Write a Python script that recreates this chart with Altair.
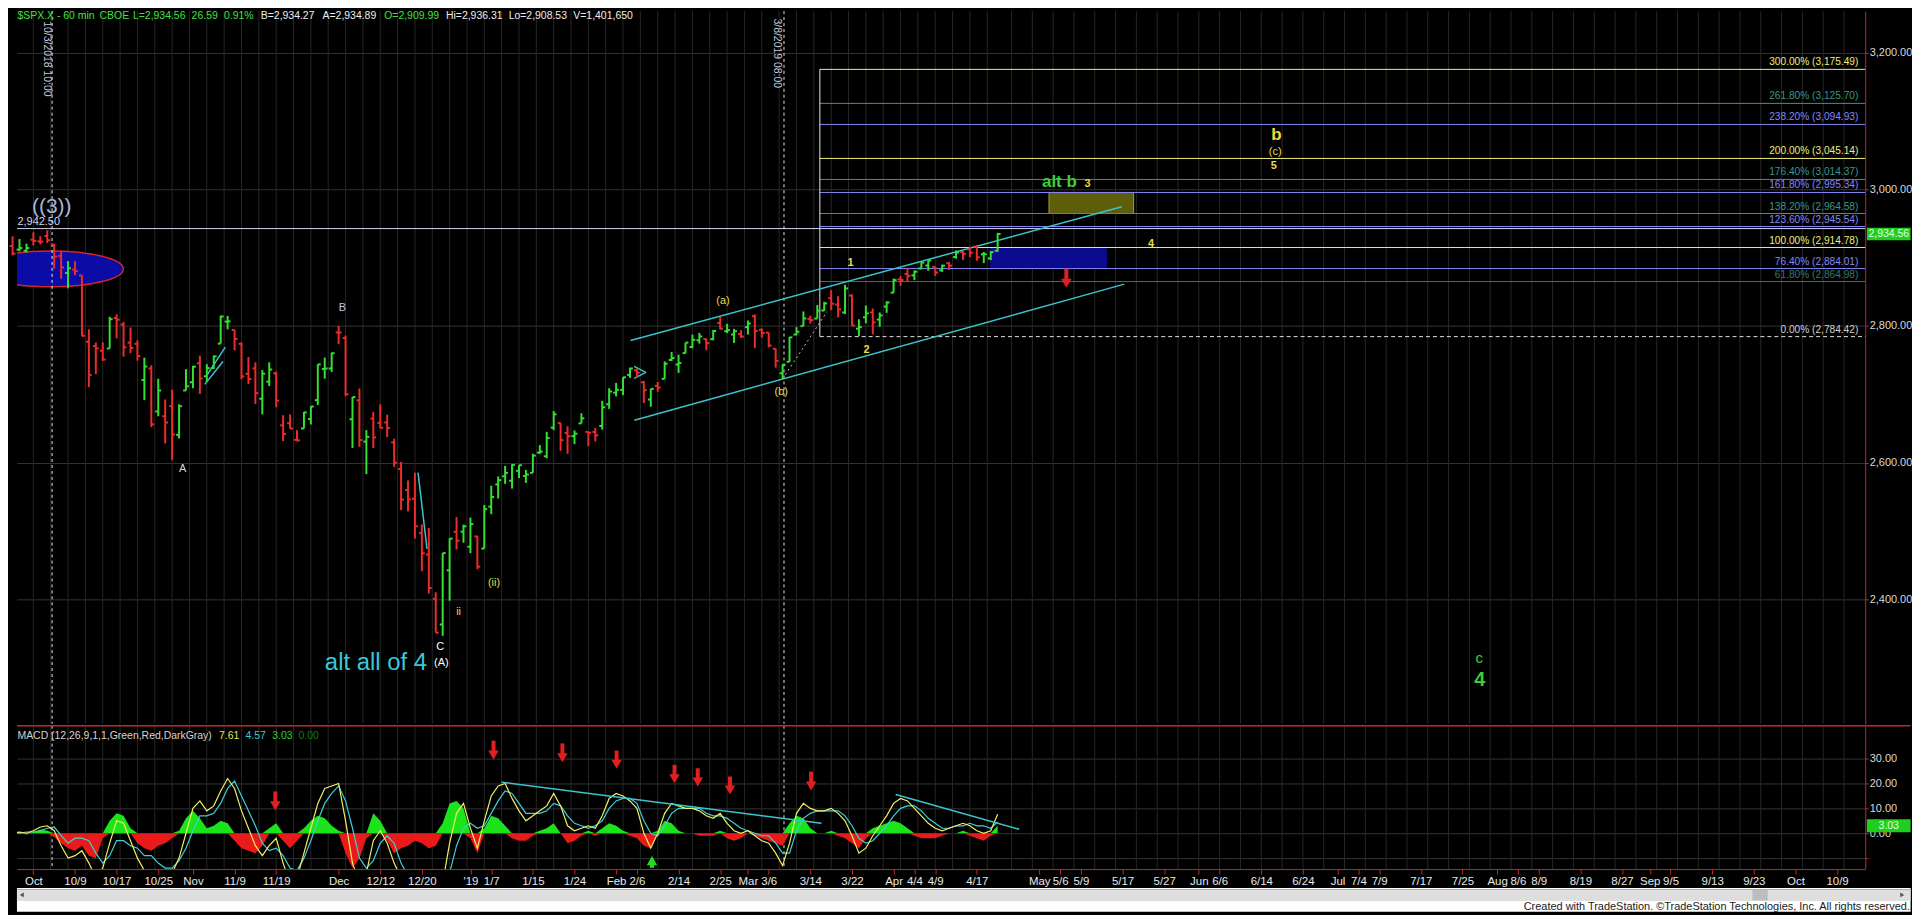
import json
import altair as alt
import numpy as np
import pandas as pd

# ---------------- calendar (trading days; future axis uses weekdays) ----------------
holidays = ["2018-11-22", "2018-12-05", "2018-12-25", "2019-01-01",
            "2019-01-21", "2019-02-18", "2019-04-19"]
trade_days = [d for d in pd.bdate_range("2018-09-26", "2019-04-23")
              if d.strftime("%Y-%m-%d") not in holidays]
FIRST = trade_days.index(pd.Timestamp("2018-10-01"))


def day_index(s):
    d = pd.Timestamp(s)
    if d <= trade_days[-1]:
        return trade_days.index(d) - FIRST
    return (len(trade_days) - 1 - FIRST) + len(pd.bdate_range("2019-04-24", d))


# ---------------- SPX daily OHLC (Sep 26 2018 .. Apr 23 2019) ----------------
opens = [2916.98, 2911.65, 2910.03, 2926.29, 2923.80, 2931.69, 2919.35, 2902.54, 2877.53, 2882.51,
         2873.90, 2776.87, 2770.54, 2763.83, 2767.05, 2811.67, 2802.00, 2775.66, 2773.94, 2721.03,
         2737.87, 2674.88, 2667.86, 2682.65, 2640.68, 2705.60, 2717.58, 2745.45, 2726.37, 2738.40,
         2774.13, 2806.38, 2794.10, 2773.93, 2730.05, 2737.90, 2693.52, 2718.54, 2730.74, 2654.60,
         2657.74, 2633.36, 2649.97, 2663.75, 2691.45, 2736.97, 2737.76, 2790.50, 2782.43, 2663.51,
         2691.26, 2630.86, 2664.44, 2658.23, 2658.70, 2629.68, 2590.75, 2559.90, 2547.05, 2496.77,
         2465.38, 2400.56, 2363.12, 2442.50, 2498.77, 2498.94, 2476.96, 2491.92, 2474.33, 2535.61,
         2568.11, 2580.00, 2573.51, 2588.11, 2580.31, 2585.10, 2614.75, 2609.28, 2651.27, 2657.88,
         2643.48, 2638.84, 2657.44, 2644.97, 2644.89, 2653.62, 2685.49, 2702.32, 2706.49, 2728.34,
         2735.05, 2717.53, 2692.36, 2712.40, 2722.61, 2750.30, 2743.50, 2760.24, 2769.28, 2779.05,
         2780.67, 2780.67, 2804.35, 2792.36, 2787.50, 2788.11, 2798.22, 2814.37, 2794.41, 2790.27,
         2766.53, 2730.79, 2747.61, 2787.34, 2799.78, 2810.38, 2810.79, 2822.61, 2840.76, 2831.34,
         2819.72, 2844.52, 2796.01, 2812.66, 2819.72, 2809.40, 2828.27, 2848.63, 2868.24, 2876.09,
         2873.99, 2884.16, 2888.46, 2886.58, 2881.37, 2891.92, 2900.86, 2908.32, 2912.26, 2916.04,
         2904.81, 2898.78, 2909.99]
highs = [2931.15, 2927.22, 2920.53, 2937.06, 2931.42, 2939.86, 2919.78, 2909.64, 2894.83, 2894.83,
         2874.02, 2795.14, 2775.77, 2775.99, 2813.46, 2816.94, 2806.04, 2797.77, 2778.94, 2753.59,
         2742.59, 2722.70, 2692.38, 2706.85, 2685.43, 2736.69, 2741.67, 2756.55, 2744.27, 2756.82,
         2815.15, 2814.75, 2794.10, 2775.99, 2754.60, 2746.80, 2735.38, 2746.75, 2733.16, 2669.44,
         2670.73, 2647.55, 2674.35, 2682.53, 2744.00, 2753.75, 2760.88, 2800.18, 2785.93, 2696.15,
         2708.54, 2647.51, 2674.35, 2685.44, 2670.19, 2635.07, 2601.13, 2573.99, 2585.29, 2509.63,
         2504.41, 2410.34, 2467.76, 2489.10, 2520.27, 2509.24, 2519.49, 2493.14, 2538.07, 2566.16,
         2579.82, 2595.32, 2597.82, 2596.27, 2589.32, 2613.08, 2625.76, 2645.06, 2675.47, 2657.88,
         2653.19, 2647.20, 2672.38, 2644.97, 2650.93, 2690.44, 2708.95, 2716.66, 2724.99, 2738.98,
         2738.08, 2719.32, 2708.07, 2718.05, 2748.19, 2761.85, 2757.90, 2775.66, 2787.33, 2789.88,
         2781.58, 2794.20, 2813.49, 2803.12, 2795.76, 2793.73, 2808.02, 2816.88, 2796.44, 2790.27,
         2767.25, 2744.13, 2784.00, 2798.32, 2821.24, 2815.00, 2830.73, 2835.41, 2852.42, 2843.54,
         2860.31, 2846.16, 2809.79, 2829.87, 2825.56, 2819.71, 2836.03, 2869.40, 2872.90, 2885.25,
         2881.28, 2893.24, 2895.95, 2886.88, 2889.71, 2893.42, 2910.54, 2909.60, 2916.06, 2918.00,
         2908.40, 2909.51, 2936.31]
lows = [2903.28, 2909.27, 2907.50, 2917.91, 2919.37, 2921.36, 2883.92, 2869.29, 2855.04, 2874.27,
        2784.86, 2710.51, 2729.44, 2749.03, 2766.91, 2781.81, 2755.18, 2760.27, 2749.22, 2691.43,
        2651.89, 2667.84, 2628.16, 2603.54, 2635.34, 2705.60, 2708.85, 2700.44, 2717.94, 2737.08,
        2774.13, 2794.99, 2764.24, 2722.00, 2714.98, 2685.75, 2670.75, 2712.16, 2681.09, 2631.52,
        2649.82, 2631.09, 2649.97, 2655.89, 2684.38, 2722.94, 2732.76, 2773.38, 2697.18, 2621.53,
        2623.14, 2583.23, 2621.30, 2650.26, 2637.27, 2593.84, 2530.54, 2528.71, 2488.96, 2441.18,
        2408.55, 2351.10, 2346.58, 2397.94, 2472.89, 2482.82, 2467.47, 2443.96, 2474.33, 2524.56,
        2547.56, 2568.89, 2562.02, 2577.40, 2570.41, 2585.10, 2612.68, 2606.36, 2647.58, 2617.27,
        2612.86, 2627.01, 2657.33, 2624.06, 2631.05, 2648.34, 2678.65, 2696.88, 2698.75, 2724.03,
        2724.15, 2687.26, 2681.83, 2703.79, 2722.61, 2748.63, 2731.23, 2760.24, 2767.29, 2774.06,
        2764.55, 2779.11, 2794.99, 2789.47, 2775.13, 2782.51, 2787.38, 2767.66, 2782.97, 2768.69,
        2739.09, 2722.27, 2747.61, 2786.73, 2799.78, 2803.46, 2810.79, 2821.99, 2823.27, 2812.43,
        2817.38, 2800.47, 2785.02, 2803.99, 2787.72, 2798.77, 2819.23, 2848.63, 2858.75, 2865.17,
        2867.14, 2882.99, 2880.78, 2873.33, 2879.13, 2881.99, 2898.37, 2896.48, 2900.71, 2895.45,
        2891.90, 2896.35, 2908.53]
closes = [2905.97, 2914.00, 2913.98, 2924.59, 2923.43, 2925.51, 2901.61, 2885.57, 2884.43, 2880.34,
          2785.68, 2728.37, 2767.13, 2750.79, 2809.92, 2809.21, 2768.78, 2767.78, 2755.88, 2740.69,
          2656.10, 2705.57, 2658.69, 2641.25, 2682.63, 2711.74, 2740.37, 2723.06, 2738.31, 2755.45,
          2813.89, 2806.83, 2781.01, 2726.22, 2722.18, 2701.58, 2730.20, 2736.27, 2690.73, 2641.89,
          2649.93, 2632.56, 2673.45, 2682.17, 2743.79, 2737.80, 2760.17, 2790.37, 2700.06, 2695.95,
          2633.08, 2637.72, 2636.78, 2651.07, 2650.54, 2599.95, 2545.94, 2546.16, 2506.96, 2467.42,
          2416.62, 2351.10, 2467.70, 2488.83, 2485.74, 2506.85, 2510.03, 2447.89, 2531.94, 2549.69,
          2574.41, 2584.96, 2596.64, 2596.26, 2582.61, 2610.30, 2616.10, 2635.96, 2670.71, 2632.90,
          2638.70, 2642.33, 2664.76, 2643.85, 2640.00, 2681.05, 2704.10, 2706.53, 2724.87, 2737.70,
          2731.61, 2706.05, 2707.88, 2709.80, 2744.73, 2753.03, 2745.73, 2775.60, 2779.76, 2784.70,
          2774.88, 2792.67, 2796.11, 2793.90, 2792.38, 2784.49, 2803.69, 2792.81, 2789.65, 2771.45,
          2748.93, 2743.07, 2783.30, 2791.52, 2810.92, 2808.48, 2822.48, 2832.94, 2832.57, 2824.23,
          2854.88, 2800.71, 2798.36, 2818.46, 2805.37, 2815.44, 2834.40, 2867.19, 2867.24, 2873.40,
          2879.39, 2892.74, 2895.77, 2878.20, 2888.21, 2888.32, 2907.41, 2905.58, 2907.06, 2900.45,
          2905.03, 2907.97, 2934.56]

# ---------------- MACD (60-min), one reading per trading day ----------------
macd_vals = [0, 0.5, 0, 1, 2.5, 3, 1, -5, -10, -9, -7, -12, -18, -14, -4, 5, 4, -3, -10, -15,
             -16, -17, -18, -16, -10, 0, 10, 13, 9, 11, 17, 22, 18, 9, 2, -5, -9, -5, -2, -12,
             -20, -18, -8, 2, 12, 18, 19, 20, 5, -12, -20, -16, -3, 1, -4, -12, -18, -22, -24, -26,
             -30, -32, -20, -4, 8, 12, 2, -6, 5, 15, 19, 20, 14, 9, 5, 7, 9, 11, 16, 11,
             3, 1, 2, 3, 2, 7, 14, 16, 15, 13, 10, 0, -6, 0, 8, 12, 11, 10, 10, 9,
             7, 6, 8, 4, 1, 0, 1, -1, -3, -4, -8, -13, -4, 8, 12, 10, 9, 9, 10, 8,
             5, -1, -8, -6, -1, 3, 7, 12, 14, 13, 10, 7, 4, 2, 1, 2, 3, 4, 3, 1,
             0, 1, 7.61]
hist_vals = [-0.5, 0.5, -0.5, 0.5, 1.5, 1, -1.5, -4, -6, -7, -5, -9, -10, -2, 5, 8, 7, 2, -4, -6,
             -7, -5, -4, -2, 1, 6, 9, 6, 2, 3, 5, 4, -3, -6, -7, -8, -5, 2, 4, -3,
             -6, -3, 2, 5, 7, 6, 3, 1, -8, -14, -10, -2, 8, 5, -3, -8, -6, -5, -3, -4,
             -6, -5, 4, 12, 13, 10, -2, -8, 2, 7, 6, 3, -2, -3, -3, -1, 1, 2, 4, 0,
             -4, -3, -1, 1, -1, 2, 4, 3, 1, -1, -2, -5, -6, 1, 5, 4, 1, 0, 0, -1,
             -1, -1, 1, -2, -3, -2, 0, -1, -2, -3, -4, -5, 4, 7, 6, 2, 0, 0, 1, -1,
             -2, -4, -6, -2, 2, 3, 4, 5, 4, 2, -1, -2, -2, -2, -1, 0, 0, 1, -1, -2,
             -3, -1, 3.03]

# ---------------- axis labels ----------------
tick_dates = ["2018-10-01", "2018-10-09", "2018-10-17", "2018-10-25", "2018-11-01", "2018-11-09",
              "2018-11-19", "2018-12-03", "2018-12-12", "2018-12-20", "2019-01-02", "2019-01-07",
              "2019-01-15", "2019-01-24", "2019-02-01", "2019-02-06", "2019-02-14", "2019-02-25",
              "2019-03-01", "2019-03-06", "2019-03-14", "2019-03-22", "2019-04-01", "2019-04-04",
              "2019-04-09", "2019-04-17", "2019-05-01", "2019-05-06", "2019-05-09", "2019-05-17",
              "2019-05-27", "2019-06-03", "2019-06-06", "2019-06-14", "2019-06-24", "2019-07-01",
              "2019-07-04", "2019-07-09", "2019-07-17", "2019-07-25", "2019-08-01", "2019-08-06",
              "2019-08-09", "2019-08-19", "2019-08-27", "2019-09-02", "2019-09-05", "2019-09-13",
              "2019-09-23", "2019-10-01", "2019-10-09"]
tick_labels = ["Oct", "10/9", "10/17", "10/25", "Nov", "11/9", "11/19", "Dec", "12/12", "12/20",
               "'19", "1/7", "1/15", "1/24", "Feb", "2/6", "2/14", "2/25", "Mar", "3/6", "3/14",
               "3/22", "Apr", "4/4", "4/9", "4/17", "May", "5/6", "5/9", "5/17", "5/27", "Jun",
               "6/6", "6/14", "6/24", "Jul", "7/4", "7/9", "7/17", "7/25", "Aug", "8/6", "8/9",
               "8/19", "8/27", "Sep", "9/5", "9/13", "9/23", "Oct", "10/9"]
price_ticks = [2400, 2600, 2800, 3000, 3200]

# Fibonacci extension levels
fib_pcts = [300.0, 261.8, 238.2, 200.0, 176.4, 161.8, 138.2, 123.6, 100.0, 76.4, 61.8]
fib_levels = [3175.49, 3125.70, 3094.93, 3045.14, 3014.37, 2995.34, 2964.58, 2945.54, 2914.78,
              2884.01, 2864.98]
YEL, TEAL, LAV = "#eeee7a", "#3f9488", "#8686f4"
fib_colors = [YEL, TEAL, LAV, YEL, TEAL, LAV, TEAL, LAV, YEL, LAV, "#2f7a6c"]

# ---------------- geometry ----------------
XMIN, XMAX = -2.367, 264.06
XTAG = 270.6
PMIN, PMAX = 2217.9, 3260.7
MMIN, MMAX = -14.4, 43.2
W, HP, HM, HF = 1857, 716, 144, 24
RED = "#c42828"
FONT = "Liberation Sans"
NARROW = "Liberation Sans Narrow, Arial Narrow, Liberation Sans"

X_SCALE = alt.Scale(domain=[XMIN, XMAX], nice=False, zero=False)
P_SCALE = alt.Scale(domain=[PMIN, PMAX], nice=False, zero=False)
M_SCALE = alt.Scale(domain=[MMIN, MMAX], nice=False, zero=False)
F_SCALE = alt.Scale(domain=[0, HF], nice=False, zero=False, reverse=True)

tick_idx = [int(day_index(d)) for d in tick_dates]
price_axis = alt.Axis(orient="right", values=price_ticks, format=",.2f", title=None,
                      labelColor="#d8d8d8", labelFont=FONT, labelFontSize=11, labelPadding=1,
                      domainColor=RED, tickColor=RED, tickSize=3, grid=True, gridColor="#333333")
macd_axis = alt.Axis(orient="right", values=[-10, 0, 10, 20, 30], title=None,
                     labelExpr="datum.value < 0 ? '' : format(datum.value, '.2f')",
                     labelColor="#d8d8d8", labelFont=FONT, labelFontSize=11, labelPadding=1,
                     domainColor=RED, tickColor=RED, tickSize=3, grid=True, gridColor="#333333")
date_axis = alt.Axis(orient="bottom", values=tick_idx, title=None, grid=False,
                     labelExpr="%s[indexof(%s, datum.value)]" % (json.dumps(tick_labels), json.dumps(tick_idx)),
                     labelColor="#e8e8e8", labelFont=NARROW, labelFontSize=11.5, labelPadding=2,
                     labelOverlap=False, labelFlush=False, domainColor=RED, tickColor=RED, tickSize=5)


def px(f):
    return alt.X(f, type="quantitative", scale=X_SCALE, axis=None)


def mx(f):
    return alt.X(f, type="quantitative", scale=X_SCALE, axis=date_axis)


def py(f):
    return alt.Y(f, type="quantitative", scale=P_SCALE, axis=price_axis)


def my(f):
    return alt.Y(f, type="quantitative", scale=M_SCALE, axis=macd_axis)


NOCOL = alt.Color("col:N", scale=None)

# ---------------- data frames ----------------
idx = np.arange(len(trade_days)) - FIRST
bars = pd.DataFrame({"idx": idx, "o": opens, "h": highs, "l": lows, "c": closes})
bars["col"] = np.where(bars.c >= bars.o, "#33e033", "#ec2b2b")
bars["xl"] = bars.idx - 0.42
bars["xr"] = bars.idx + 0.42

grid_x = pd.DataFrame({"g": np.concatenate([np.arange(0, 140, 2.5), np.arange(141, 264, 3)])})

fib = pd.DataFrame({"level": fib_levels, "col": fib_colors})
fib["label"] = ["%.2f%% (%s)" % (p, format(v, ",.2f")) for p, v in zip(fib_pcts, fib_levels)]
fib["x0"] = 113.37
fib["x1"] = XMAX
fib["xt"] = 263.06
fib0 = pd.DataFrame({"level": [2784.42], "x0": [113.37], "x1": [XMAX], "xt": [263.06],
                     "label": ["0.00% (2,784.42)"]})
fib_edge = pd.DataFrame({"x": [113.37], "y": [2784.42], "y2": [3175.49]})
pivot = pd.DataFrame({"x0": [XMIN], "x1": [XMAX], "y": [2942.50], "xt": [-2.3], "label": ["2,942.50"]})

boxes = pd.DataFrame({"x": [138.0, 146.4], "x2": [154.7, 158.6], "y": [2884.01, 2964.58],
                      "y2": [2914.78, 2995.34], "col": ["#0b0b8e", "#5e5e0a"],
                      "stroke": ["#0b0b8e", "#a2a22c"]})
ellipse = pd.DataFrame({"x": [2.5], "y": [2883.5]})
ELLIPSE = "M -1 0 A 1 0.247 0 1 1 1 0 A 1 0.247 0 1 1 -1 0 Z"

vlines = pd.DataFrame({"v": [2.70, 108.2]})
vtext = pd.DataFrame({"x": [1.94, 107.25], "y": [3246, 3250],
                      "t": ["10/3/2018 10:00", "3/8/2019 08:00"]})

chan = pd.DataFrame({
    "id": ["up", "up", "lo", "lo", "f1", "f1", "f2", "f2", "dec", "dec", "t1", "t1", "t2", "t2"],
    "x": [86.08, 156.9, 86.63, 157.25, 25.08, 27.66, 24.70, 27.33, 55.45, 56.74, 86.6, 88.3, 86.6, 88.3],
    "y": [2778.6, 2974.5, 2662.0, 2861.2, 2728.7, 2768.9, 2714.5, 2748.0, 2585.4, 2473.8,
          2740.8, 2732.0, 2723.3, 2732.0]})
dotted = pd.DataFrame({"x": [108.4, 114.4], "y": [2728.7, 2820.9]})

labels_n = pd.DataFrame([
    ("((3))", 2.65, 2974.0, "#a6b6d6", 21),
    ("A", 21.5, 2590.3, "#d8d8d8", 11),
    ("B", 44.55, 2825.7, "#b8c8ee", 11),
    ("C", 58.65, 2330.5, "#ffffff", 11),
    ("(A)", 58.8, 2306.3, "#ffffff", 11),
    ("ii", 61.3, 2381.5, "#e8dc40", 11),
    ("(ii)", 66.4, 2423.7, "#e8dc40", 11),
    ("(a)", 99.4, 2836.9, "#e8dc50", 11),
    ("(b)", 107.8, 2703.3, "#e8dc50", 11),
    ("(c)", 179.0, 3053.9, "#e8dc50", 11),
    ("c", 208.4, 2314.6, "#3ccf3c", 15),
], columns=["t", "x", "y", "col", "size"])
labels_b = pd.DataFrame([
    ("1", 117.8, 2892.7, "#e8dc40", 11),
    ("2", 120.1, 2764.5, "#e8dc40", 11),
    ("4", 161.1, 2920.3, "#e8dc40", 11),
    ("3", 151.97, 3008.4, "#e8dc40", 11),
    ("5", 178.8, 3034.5, "#e8dc40", 11),
    ("b", 179.2, 3079.0, "#e8dc40", 17),
    ("alt b", 147.9, 3010.2, "#3ccf3c", 17),
    ("4", 208.5, 2282.6, "#3ccf3c", 20),
], columns=["t", "x", "y", "col", "size"])
alt4 = pd.DataFrame({"t": ["alt all of 4"], "x": [56.75], "y": [2306.3]})

title_txt = ["$SPX.X - 60 min", "CBOE", "L=2,934.56", "26.59", "0.91%", "B=2,934.27", "A=2,934.89",
             "O=2,909.99", "Hi=2,936.31", "Lo=2,908.53", "V=1,401,650"]
title_x = [-2.296, 9.54, 14.35, 22.81, 27.47, 32.78, 41.68, 50.57, 59.47, 68.51, 77.83]
G, Wt = "#3ee23e", "#eeeeee"
title_col = [G, G, G, G, G, Wt, Wt, G, Wt, Wt, Wt]
title_df = pd.DataFrame({"t": title_txt, "x": title_x, "col": title_col, "y": 3249.8})

p_arrow = pd.DataFrame({"x": [148.9], "top": [2883.9], "bot": [2857.0]})
p_arrow["shaft"] = p_arrow.bot + 9.0
p_arrow["head"] = p_arrow.bot + 5.5

tag_p = pd.DataFrame({"x": [264.3], "x2": [XTAG], "y": [2934.56 - 9], "y2": [2934.56 + 9],
                      "xt": [267.45], "yt": [2934.56], "t": ["2,934.56"]})

# MACD frames
macd = pd.DataFrame({"idx": idx, "m": macd_vals, "h": hist_vals})
macd["s"] = macd.m - macd.h
macd["hp"] = macd.h.clip(lower=0)
macd["hn"] = macd.h.clip(upper=0)
macd["zero"] = 0.0

mtrend = pd.DataFrame({"id": ["a", "a", "b", "b"], "x": [67.47, 113.6, 124.3, 142.1],
                       "y": [20.5, 4.0, 15.6, 1.6]})
m_arrows = pd.DataFrame({"x": [66.33, 76.26, 84.07, 92.42, 95.77, 100.42, 112.11, 34.88],
                         "top": [37.2, 36.1, 33.2, 27.5, 26.1, 22.8, 24.8, 16.8],
                         "bot": [29.6, 28.5, 25.9, 20.1, 18.8, 15.6, 17.2, 9.2]})
m_arrows["shaft"] = m_arrows.bot + 3.0
m_arrows["head"] = m_arrows.bot + 1.8
g_arrow = pd.DataFrame({"x": [89.17], "top": [-9.2], "bot": [-13.9]})
g_arrow["shaft"] = g_arrow.top - 3.0
g_arrow["head"] = g_arrow.top - 1.8

mtitle = pd.DataFrame({"t": ["MACD (12,26,9,1,1,Green,Red,DarkGray)", "7.61", "4.57", "3.03", "0.00"],
                       "x": [-2.296, 26.76, 30.57, 34.43, 38.22],
                       "col": ["#d4d4d4", "#e6e65a", "#40c8d0", "#22dd22", "#127a12"], "y": 39.2})
sep = pd.DataFrame({"x0": [XMIN], "x1": [XTAG], "y": [MMAX]})
tag_m = pd.DataFrame({"x": [264.3], "x2": [XTAG], "y": [3.03 - 2.6], "y2": [3.03 + 2.6],
                      "xt": [267.45], "yt": [3.03], "t": ["3.03"]})

# ---------------- price panel ----------------
lay = []
lay.append(alt.Chart(grid_x).mark_rule(color="#262626", strokeWidth=1).encode(x=px("g")))
lay.append(alt.Chart(ellipse).mark_point(shape=ELLIPSE, size=21300, filled=True, fill="#0b0ba6",
                                         stroke="#d02828", strokeWidth=1.5, opacity=1, clip=True)
           .encode(x=px("x"), y=py("y")))
lay.append(alt.Chart(boxes).mark_rect(strokeWidth=1).encode(
    x=px("x"), x2="x2", y=py("y"), y2="y2", color=NOCOL,
    stroke=alt.Stroke("stroke:N", scale=None)))
lay.append(alt.Chart(fib).mark_rule(strokeWidth=1).encode(x=px("x0"), x2="x1", y=py("level"), color=NOCOL))
lay.append(alt.Chart(fib0).mark_rule(strokeWidth=1, color="#e0e0e0", strokeDash=[4, 3])
           .encode(x=px("x0"), x2="x1", y=py("level")))
lay.append(alt.Chart(fib_edge).mark_rule(strokeWidth=1, color="#e8e8e8").encode(x=px("x"), y=py("y"), y2="y2"))
lay.append(alt.Chart(pivot).mark_rule(strokeWidth=1, color="#d4d4ee").encode(x=px("x0"), x2="x1", y=py("y")))
lay.append(alt.Chart(vlines).mark_rule(color="#e8e8e8", strokeDash=[3, 3], strokeWidth=1).encode(x=px("v")))
lay.append(alt.Chart(chan).mark_line(color="#3cc4cc", strokeWidth=1.5).encode(
    x=px("x"), y=py("y"), detail="id:N"))
lay.append(alt.Chart(dotted).mark_line(color="#bdbdbd", strokeWidth=1, strokeDash=[2, 3]).encode(
    x=px("x"), y=py("y")))
lay.append(alt.Chart(bars).mark_rule(strokeWidth=2).encode(x=px("idx"), y=py("l"), y2="h", color=NOCOL))
lay.append(alt.Chart(bars).mark_rule(strokeWidth=2).encode(x=px("xl"), x2="idx", y=py("o"), color=NOCOL))
lay.append(alt.Chart(bars).mark_rule(strokeWidth=2).encode(x=px("idx"), x2="xr", y=py("c"), color=NOCOL))
lay.append(alt.Chart(fib).mark_text(align="right", baseline="middle", dy=-7, font=FONT, fontSize=10.2)
           .encode(x=px("xt"), y=py("level"), text="label:N", color=NOCOL))
lay.append(alt.Chart(fib0).mark_text(align="right", baseline="middle", dy=-7, font=FONT, fontSize=10.2,
                                     color="#d0d0d0")
           .encode(x=px("xt"), y=py("level"), text="label:N"))
lay.append(alt.Chart(pivot).mark_text(align="left", baseline="middle", dy=-7, font=FONT, fontSize=11,
                                      color="#d6d6e6")
           .encode(x=px("xt"), y=py("y"), text="label:N"))
lay.append(alt.Chart(vtext).mark_text(angle=90, align="left", baseline="middle", font=FONT, fontSize=10.5,
                                      color="#c4c8dc")
           .encode(x=px("x"), y=py("y"), text="t:N"))
lay.append(alt.Chart(labels_n).mark_text(align="center", baseline="middle", font=FONT)
           .encode(x=px("x"), y=py("y"), text="t:N", color=NOCOL, size=alt.Size("size:Q", scale=None)))
lay.append(alt.Chart(labels_b).mark_text(align="center", baseline="middle", font=FONT, fontWeight="bold")
           .encode(x=px("x"), y=py("y"), text="t:N", color=NOCOL, size=alt.Size("size:Q", scale=None)))
lay.append(alt.Chart(alt4).mark_text(align="right", baseline="middle", font=FONT, fontSize=24,
                                     color="#3cc6da")
           .encode(x=px("x"), y=py("y"), text="t:N"))
lay.append(alt.Chart(title_df).mark_text(align="left", baseline="alphabetic", font=FONT, fontSize=10.5)
           .encode(x=px("x"), y=py("y"), text="t:N", color=NOCOL))
lay.append(alt.Chart(p_arrow).mark_rule(color="#e02020", strokeWidth=4).encode(x=px("x"), y=py("top"), y2="shaft"))
lay.append(alt.Chart(p_arrow).mark_point(shape="triangle-down", size=110, filled=True, color="#e02020", opacity=1)
           .encode(x=px("x"), y=py("head")))
lay.append(alt.Chart(tag_p).mark_rect(color="#1fcf1f").encode(x=px("x"), x2="x2", y=py("y"), y2="y2"))
lay.append(alt.Chart(tag_p).mark_text(align="center", baseline="middle", font=FONT, fontSize=10.5,
                                      color="#e4ffe4")
           .encode(x=px("xt"), y=py("yt"), text="t:N"))
price = alt.layer(*lay).properties(width=W, height=HP)

# ---------------- MACD panel ----------------
ml = []
ml.append(alt.Chart(grid_x).mark_rule(color="#262626", strokeWidth=1).encode(x=mx("g")))
ml.append(alt.Chart(vlines).mark_rule(color="#e8e8e8", strokeDash=[3, 3], strokeWidth=1).encode(x=mx("v")))
ml.append(alt.Chart(macd).mark_area(color="#1be41b", clip=True).encode(x=mx("idx"), y=my("hp"), y2="zero"))
ml.append(alt.Chart(macd).mark_area(color="#e81a1a", clip=True).encode(x=mx("idx"), y=my("hn"), y2="zero"))
ml.append(alt.Chart(macd).mark_line(color="#3ed0d6", strokeWidth=1.2, clip=True).encode(x=mx("idx"), y=my("s")))
ml.append(alt.Chart(macd).mark_line(color="#f0f064", strokeWidth=1.2, clip=True).encode(x=mx("idx"), y=my("m")))
ml.append(alt.Chart(mtrend).mark_line(color="#3cc4cc", strokeWidth=1.5).encode(x=mx("x"), y=my("y"), detail="id:N"))
ml.append(alt.Chart(m_arrows).mark_rule(color="#e02020", strokeWidth=4).encode(x=mx("x"), y=my("top"), y2="shaft"))
ml.append(alt.Chart(m_arrows).mark_point(shape="triangle-down", size=110, filled=True, color="#e02020", opacity=1)
          .encode(x=mx("x"), y=my("head")))
ml.append(alt.Chart(g_arrow).mark_rule(color="#22dd22", strokeWidth=4).encode(x=mx("x"), y=my("bot"), y2="shaft"))
ml.append(alt.Chart(g_arrow).mark_point(shape="triangle-up", size=110, filled=True, color="#22dd22", opacity=1)
          .encode(x=mx("x"), y=my("head")))
ml.append(alt.Chart(mtitle).mark_text(align="left", baseline="middle", font=FONT, fontSize=10.5)
          .encode(x=mx("x"), y=my("y"), text="t:N", color=NOCOL))
ml.append(alt.Chart(sep).mark_rule(color=RED, strokeWidth=1.5).encode(x=mx("x0"), x2="x1", y=my("y")))
ml.append(alt.Chart(tag_m).mark_rect(color="#1fcf1f").encode(x=mx("x"), x2="x2", y=my("y"), y2="y2"))
ml.append(alt.Chart(tag_m).mark_text(align="center", baseline="middle", font=FONT, fontSize=10.5,
                                     color="#e4ffe4")
          .encode(x=mx("xt"), y=my("yt"), text="t:N"))
macd_chart = alt.layer(*ml).properties(width=W, height=HM)

# ---------------- footer (scroll bar + credit) ----------------
frects = pd.DataFrame({"x": [XMIN, XMIN, XMIN, 247.8], "x2": [XTAG, XTAG, XTAG, 250.0],
                       "y": [0, 1, 1, 2], "y2": [HF, 13, 1.8, 12.5],
                       "col": ["#ffffff", "#dedede", "#9c9c9c", "#bdbdbd"]})
farrows = pd.DataFrame({"x": [XMIN + 0.7, XTAG - 1.2], "y": [7, 7], "shape": ["triangle-left", "triangle-right"]})
ftext = pd.DataFrame({"x": [XTAG - 0.1], "y": [13.6],
                      "t": ["Created with TradeStation. \u00a9TradeStation Technologies, Inc. All rights reserved."]})
fx = lambda f: alt.X(f, type="quantitative", scale=X_SCALE, axis=None)
fy = lambda f: alt.Y(f, type="quantitative", scale=F_SCALE, axis=None)
footer = alt.layer(
    alt.Chart(frects).mark_rect().encode(x=fx("x"), x2="x2", y=fy("y"), y2="y2", color=NOCOL),
    alt.Chart(farrows).mark_point(filled=True, size=22, color="#555555", opacity=1)
    .encode(x=fx("x"), y=fy("y"), shape=alt.Shape("shape:N", scale=None)),
    alt.Chart(ftext).mark_text(align="right", baseline="top", font=NARROW, fontSize=11, color="#1a1a1a")
    .encode(x=fx("x"), y=fy("y"), text="t:N"),
).properties(width=W, height=HF)

chart = alt.vconcat(price, macd_chart, footer, spacing=0).properties(
    background="#000000", padding=0
).configure_view(stroke=None, fill="#000000")

chart.save("out.html", embed_options={"renderer": "svg", "actions": False})
